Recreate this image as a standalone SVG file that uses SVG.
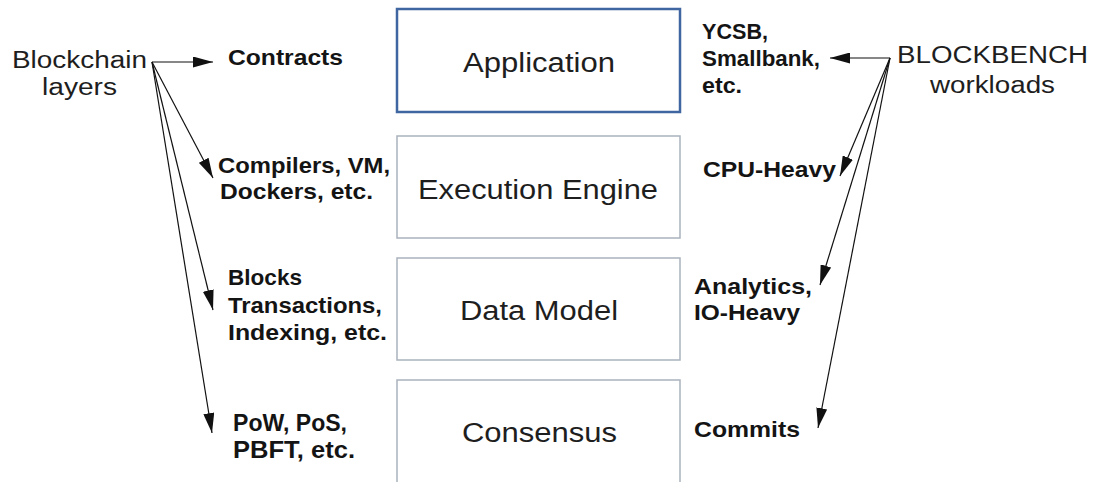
<svg xmlns="http://www.w3.org/2000/svg" width="1097" height="482" viewBox="0 0 1097 482">
  <style>
    .layer { fill: #ffffff; stroke: #aab2bd; stroke-width: 1.5; }
    .layer.top { stroke: #3f66a0; stroke-width: 2.5; }
    .box-label { font-family: "Liberation Sans", Arial, sans-serif; font-size: 27px; fill: #1e1e1e; }
    .head { font-family: "Liberation Sans", Arial, sans-serif; font-size: 23px; fill: #1e1e1e; }
    .item { font-family: "Liberation Sans", Arial, sans-serif; font-size: 22px; font-weight: bold; fill: #141414; }
    .item.large { font-size: 24px; }
    .conn { stroke: #111111; stroke-width: 1.2; fill: none; marker-end: url(#tip); }
  </style>
  <defs>
    <marker id="tip" markerUnits="userSpaceOnUse" markerWidth="20" markerHeight="11" refX="20" refY="5.5" orient="auto">
      <path d="M0,0 L20,5.5 L0,11 Z" fill="#111111"/>
    </marker>
  </defs>
  <rect width="1097" height="482" fill="#ffffff"/>

  <!-- stack of layers -->
  <g id="application">
    <rect class="layer top" x="397" y="9" width="283" height="103"/>
    <text class="box-label" x="463" y="72" textLength="152" lengthAdjust="spacingAndGlyphs">Application</text>
  </g>
  <g id="execution-engine">
    <rect class="layer" x="397" y="136" width="283" height="102"/>
    <text class="box-label" x="418" y="199" textLength="240" lengthAdjust="spacingAndGlyphs">Execution Engine</text>
  </g>
  <g id="data-model">
    <rect class="layer" x="397" y="258" width="283" height="102"/>
    <text class="box-label" x="460" y="320" textLength="158" lengthAdjust="spacingAndGlyphs">Data Model</text>
  </g>
  <g id="consensus">
    <rect class="layer" x="397" y="380" width="283" height="110"/>
    <text class="box-label" x="462" y="442" textLength="155" lengthAdjust="spacingAndGlyphs">Consensus</text>
  </g>

  <!-- left heading -->
  <g id="blockchain-layers">
    <text class="head" x="12" y="68" textLength="135" lengthAdjust="spacingAndGlyphs">Blockchain</text>
    <text class="head" x="42" y="95" textLength="75" lengthAdjust="spacingAndGlyphs">layers</text>
  </g>

  <!-- right heading -->
  <g id="blockbench-workloads">
    <text class="head" x="897" y="63" textLength="191" lengthAdjust="spacingAndGlyphs">BLOCKBENCH</text>
    <text class="head" x="930" y="93" textLength="125" lengthAdjust="spacingAndGlyphs">workloads</text>
  </g>

  <!-- per-layer components -->
  <g id="contracts">
    <text class="item" x="228" y="65" textLength="115" lengthAdjust="spacingAndGlyphs">Contracts</text>
  </g>
  <g id="compilers">
    <text class="item" x="218" y="173" textLength="172" lengthAdjust="spacingAndGlyphs">Compilers, VM,</text>
    <text class="item" x="220" y="199" textLength="153" lengthAdjust="spacingAndGlyphs">Dockers, etc.</text>
  </g>
  <g id="blocks">
    <text class="item" x="228" y="285" textLength="74" lengthAdjust="spacingAndGlyphs">Blocks</text>
    <text class="item" x="228" y="313" textLength="154" lengthAdjust="spacingAndGlyphs">Transactions,</text>
    <text class="item" x="228" y="340" textLength="159" lengthAdjust="spacingAndGlyphs">Indexing, etc.</text>
  </g>
  <g id="protocols">
    <text class="item large" x="233" y="431" textLength="114" lengthAdjust="spacingAndGlyphs">PoW, PoS,</text>
    <text class="item large" x="233" y="458" textLength="122" lengthAdjust="spacingAndGlyphs">PBFT, etc.</text>
  </g>

  <!-- per-layer workloads -->
  <g id="ycsb">
    <text class="item" x="702" y="39" textLength="66" lengthAdjust="spacingAndGlyphs">YCSB,</text>
    <text class="item" x="702" y="66" textLength="118" lengthAdjust="spacingAndGlyphs">Smallbank,</text>
    <text class="item" x="702" y="93" textLength="40" lengthAdjust="spacingAndGlyphs">etc.</text>
  </g>
  <g id="cpu-heavy">
    <text class="item" x="703" y="177" textLength="133" lengthAdjust="spacingAndGlyphs">CPU-Heavy</text>
  </g>
  <g id="analytics">
    <text class="item" x="694" y="294" textLength="118" lengthAdjust="spacingAndGlyphs">Analytics,</text>
    <text class="item" x="694" y="320" textLength="106" lengthAdjust="spacingAndGlyphs">IO-Heavy</text>
  </g>
  <g id="commits">
    <text class="item" x="694" y="437" textLength="106" lengthAdjust="spacingAndGlyphs">Commits</text>
  </g>

  <!-- connectors -->
  <g id="connectors">
    <line class="conn" x1="152" y1="62" x2="213" y2="62"/>
    <line class="conn" x1="152" y1="62" x2="213" y2="178"/>
    <line class="conn" x1="152" y1="62" x2="213" y2="310"/>
    <line class="conn" x1="152" y1="62" x2="212" y2="433"/>
    <line class="conn" x1="890" y1="58" x2="830" y2="58"/>
    <line class="conn" x1="890" y1="58" x2="840" y2="176"/>
    <line class="conn" x1="890" y1="58" x2="820" y2="285"/>
    <line class="conn" x1="890" y1="58" x2="818" y2="428"/>
  </g>
</svg>
